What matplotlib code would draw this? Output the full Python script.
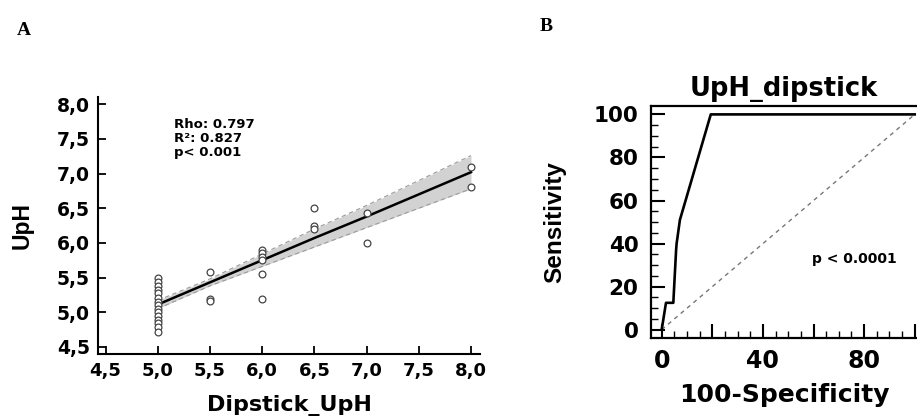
import matplotlib
matplotlib.use("Agg")
import matplotlib.pyplot as plt
import numpy as np

plt.rcParams['font.family'] = ['DejaVu Sans']
plt.rcParams['font.weight'] = 'bold'

# panel A: scatter data (dipstick vs measured urine pH)
dip_x = [5.0] * 15 + [5.5, 5.5, 5.5,
                      6.0, 6.0, 6.0, 6.0, 6.0, 6.0,
                      6.5, 6.5, 6.5,
                      7.0, 7.0,
                      8.0, 8.0]
uph_y = [5.50, 5.44, 5.38, 5.32, 5.27, 5.21, 5.15, 5.10, 5.05, 5.00,
         4.95, 4.89, 4.84, 4.78, 4.72,
         5.58, 5.19, 5.16,
         5.90, 5.85, 5.80, 5.75, 5.55, 5.19,
         6.50, 6.25, 6.20,
         6.43, 6.00,
         7.10, 6.81]

# regression line and confidence band
fit_x = [5.0, 5.5, 6.0, 6.5, 7.0, 7.5, 8.0]
fit_y = [5.11, 5.43, 5.75, 6.07, 6.38, 6.70, 7.02]
band_lo = [5.05, 5.38, 5.66, 5.94, 6.22, 6.50, 6.78]
band_hi = [5.17, 5.48, 5.84, 6.20, 6.54, 6.90, 7.26]

stats_text = "Rho: 0.797\nR²: 0.827\np< 0.001"

# panel B: ROC curve
roc_x = [0, 1.7, 4.6, 5.0, 5.7, 5.9, 7.2, 19.4, 100]
roc_y = [0, 12.5, 12.5, 21.5, 37.0, 40.0, 51.0, 100, 100]
diag = [0, 100]

fig = plt.figure(figsize=(9.17, 4.18), dpi=100)

# ---------- A ----------
ax = fig.add_axes([0.1072, 0.1538, 0.5234 - 0.1072, 0.7687 - 0.1538])
ax.fill_between(fit_x, band_lo, band_hi, color='#d2d2d2', lw=0, zorder=1)
ax.plot(fit_x, band_lo, color='#9a9a9a', lw=0.8, ls=(0, (4, 3)), zorder=2)
ax.plot(fit_x, band_hi, color='#9a9a9a', lw=0.8, ls=(0, (4, 3)), zorder=2)
ax.plot(fit_x, fit_y, color='black', lw=1.8, zorder=3)
ax.scatter(dip_x, uph_y, s=24, facecolors='white', edgecolors='#444444',
           linewidths=0.9, zorder=4)
ax.text(5.155, 7.80, stats_text, fontsize=9.5, fontweight='bold',
        va='top', ha='left', linespacing=1.1)

ticks_a = np.arange(4.5, 8.01, 0.5)
ax.set_xlim(4.43, 8.086)
ax.set_ylim(4.40, 8.11)
ax.set_xticks(ticks_a)
ax.set_yticks(ticks_a)
ax.set_xticklabels([f"{v:.1f}".replace('.', ',') for v in ticks_a])
ax.set_yticklabels([f"{v:.1f}".replace('.', ',') for v in ticks_a])
ax.tick_params(axis='both', direction='in', length=6, width=1.3)
ax.tick_params(axis='x', labelsize=13, pad=6)
ax.tick_params(axis='y', labelsize=13.5, pad=6)
for lab in ax.get_xticklabels() + ax.get_yticklabels():
    lab.set_fontweight('bold')
ax.spines['top'].set_visible(False)
ax.spines['right'].set_visible(False)
for s in ['left', 'bottom']:
    ax.spines[s].set_linewidth(1.5)
ax.set_xlabel('Dipstick_UpH', fontsize=16, fontweight='bold', labelpad=11)
ax.set_ylabel('UpH', family='Liberation Sans', fontsize=16.5,
              fontweight='bold', labelpad=17)

# ---------- B ----------
bx = fig.add_axes([0.7099, 0.1921, 1.0 - 0.7099, 0.7464 - 0.1921])
bx.plot(diag, diag, color='#777777', lw=1.0, ls=(0, (3, 3)))
bx.plot(roc_x, roc_y, color='black', lw=1.9)
bx.text(59.5, 32.7, 'p < 0.0001', fontsize=10, fontweight='bold',
        ha='left', va='center')
bx.set_xlim(-4.23, 100.9)
bx.set_ylim(-3.7, 103.9)
bx.set_xticks(np.arange(0, 101, 20))
bx.set_xticklabels(['0', '', '40', '', '80', ''])
bx.set_xticks(np.arange(0, 101, 5), minor=True)
bx.set_yticks(np.arange(0, 101, 20))
bx.set_yticks(np.arange(0, 101, 5), minor=True)
bx.tick_params(axis='both', which='major', direction='in', length=10, width=1.5)
bx.tick_params(axis='both', which='minor', direction='in', length=5, width=1.0)
bx.tick_params(axis='x', which='major', labelsize=17, pad=8)
bx.tick_params(axis='y', which='major', labelsize=15.5, pad=9)
for lab in bx.get_xticklabels() + bx.get_yticklabels():
    lab.set_fontweight('bold')
bx.spines['right'].set_visible(False)
for s in ['left', 'bottom', 'top']:
    bx.spines[s].set_linewidth(1.6)
bx.set_title('UpH_dipstick', fontsize=18.5, fontweight='bold', pad=7)
bx.set_xlabel('100-Specificity', fontsize=18, fontweight='bold', labelpad=7)
bx.set_ylabel('Sensitivity', family='Liberation Sans', fontsize=17.5,
              fontweight='bold', labelpad=20)

fig.text(0.018, 0.948, 'A', family='Liberation Serif', fontsize=14,
         fontweight='bold', va='top')
fig.text(0.589, 0.956, 'B', family='Liberation Serif', fontsize=14,
         fontweight='bold', va='top')

fig.savefig('out.png', dpi=100)
